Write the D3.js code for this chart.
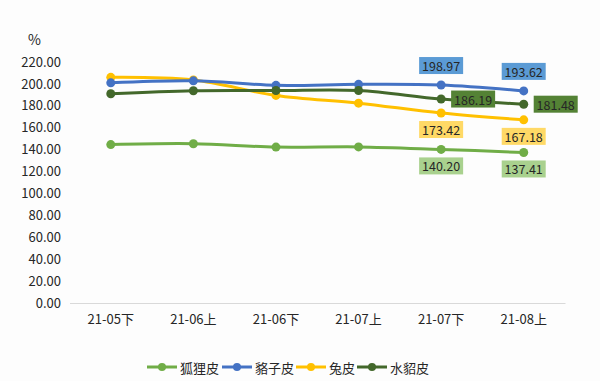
<!DOCTYPE html>
<html>
<head>
<meta charset="utf-8">
<script src="https://cdn.jsdelivr.net/npm/d3@7/dist/d3.min.js"></script>
<style>
html,body{margin:0;padding:0;background:#fff;}
svg{display:block;}
text{font-family:"Noto Sans CJK SC","Noto Sans",sans-serif;fill:#262626;}
</style>
</head>
<body>
<svg id="chart" width="600" height="381"></svg>
<script>
const categories = ["21-05下","21-06上","21-06下","21-07上","21-07下","21-08上"];
const seriesNames = ["狐狸皮","貉子皮","兔皮","水貂皮"];
const foxValues   = [144.6, 145.4, 142.3, 142.5, 140.20, 137.41];
const raccoonValues = [201.0, 202.8, 198.7, 199.6, 198.97, 193.62];
const rabbitValues  = [206.0, 203.6, 189.5, 182.4, 173.42, 167.18];
const minkValues    = [191.0, 193.8, 194.0, 194.0, 186.19, 181.48];
const yTicks = [0,20,40,60,80,100,120,140,160,180,200,220];
const lineColors = ["#70ad47","#4472c4","#ffc000","#43682b"];
const boxColors  = ["#a9d18e","#5b9bd5","#ffd966","#548235"];
// label placement per series: below, above, below, right
const labelPos = ["below","above","below","right"];

const allSeries = [foxValues, raccoonValues, rabbitValues, minkValues];

const svg = d3.select("#chart");
svg.append("rect").attr("width",600).attr("height",381).attr("fill","#fdfdfd");

const x = d3.scaleBand().domain(categories).range([69.5,565]);
const y = d3.scaleLinear().domain([0,220]).range([303,62]);
const cx = c => x(c) + x.bandwidth()/2;

// y axis labels
const yAxis = d3.axisLeft(y).tickValues(yTicks).tickFormat(d3.format(".2f")).tickSize(0).tickPadding(0);
const gy = svg.append("g").attr("transform","translate(61,0)").call(yAxis);
gy.select(".domain").remove();
gy.selectAll("text").style("font-size","13px").attr("fill","#262626")
  .style("font-family","'Noto Sans CJK SC','Noto Sans',sans-serif");

svg.append("text").attr("x",28).attr("y",45).style("font-size","14px").text("%");

// x axis
const xAxis = d3.axisBottom(x).tickSize(0).tickPadding(12);
const gx = svg.append("g").attr("transform","translate(0,303)").call(xAxis);
gx.select(".domain").attr("stroke","#d9d9d9").attr("stroke-width",1.2);
gx.selectAll("text").style("font-size","13px").attr("fill","#262626")
  .style("font-family","'Noto Sans CJK SC','Noto Sans',sans-serif");

const line = d3.line().x((d,i)=>cx(categories[i])).y(d=>y(d)).curve(d3.curveCatmullRom.alpha(0.5));

const order = [0,2,1,3];
order.forEach(si=>{
  const vals = allSeries[si];
  svg.append("path").attr("d",line(vals)).attr("fill","none")
    .attr("stroke",lineColors[si]).attr("stroke-width",3).attr("stroke-linecap","round");
  svg.append("g").selectAll("circle").data(vals).join("circle")
    .attr("cx",(d,i)=>cx(categories[i])).attr("cy",d=>y(d)).attr("r",4.5)
    .attr("fill",lineColors[si]);
});

// data labels for last two points
order.forEach(si=>{
  const vals = allSeries[si];
  [4,5].forEach(i=>{
    const px = cx(categories[i]), py = y(vals[i]);
    const w = 44, h = 17;
    let bx, by;
    if (labelPos[si]==="above"){ bx = px - w/2; by = py - 11 - h; }
    else if (labelPos[si]==="below"){ bx = px - w/2; by = py + 8; }
    else { bx = px + 10; by = py - h/2; }
    const g = svg.append("g");
    g.append("rect").attr("x",bx).attr("y",by).attr("width",w).attr("height",h).attr("fill",boxColors[si]);
    g.append("text").attr("x",bx+w/2).attr("y",by+h/2).attr("text-anchor","middle")
      .attr("dominant-baseline","central").style("font-size","12.5px").attr("fill","#1a1a1a")
      .text(d3.format(".2f")(vals[i]));
  });
});

// legend
const legendX = [147,222,296,357];
const lg = svg.append("g");
seriesNames.forEach((n,i)=>{
  const lx = legendX[i], ly = 367;
  lg.append("line").attr("x1",lx).attr("x2",lx+30).attr("y1",ly).attr("y2",ly)
    .attr("stroke",lineColors[i]).attr("stroke-width",3);
  lg.append("circle").attr("cx",lx+15).attr("cy",ly).attr("r",4).attr("fill",lineColors[i]);
  lg.append("text").attr("x",lx+33).attr("y",ly).attr("dominant-baseline","central")
    .style("font-size","13px").text(n);
});
</script>
</body>
</html>
